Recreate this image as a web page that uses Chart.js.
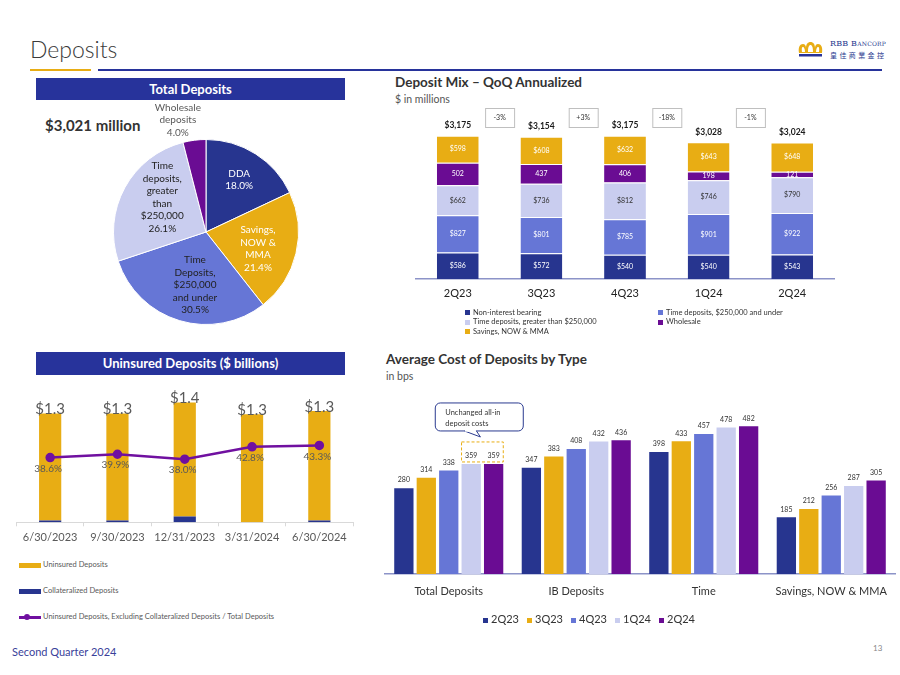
<!DOCTYPE html>
<html>
<head>
<meta charset="utf-8">
<script src="https://cdn.jsdelivr.net/npm/chart.js@4.4.1/dist/chart.umd.min.js"></script>
<style>
  body { margin: 0; width: 900px; height: 675px; background: #fff; position: relative; overflow: hidden; font-family: Lato, "Noto Sans", sans-serif; color: #333; }
  .abs { position: absolute; }
  .bar-head { position: absolute; background: #27339b; color: #fff; font-weight: bold; font-size: 13px; text-align: center; }
  .lg { position: absolute; white-space: nowrap; }
  .sq { display: inline-block; width: 5px; height: 5px; margin-right: 3px; vertical-align: middle; }
  canvas { position: absolute; }
</style>
</head>
<body>

<div class="abs" style="left:30px;top:35px;font-size:23px;font-weight:300;color:#3a3a3a;">Deposits</div>
<div class="abs" style="left:30px;top:69px;width:61px;height:2px;background:#e8ad14;"></div>
<div class="abs" style="left:98px;top:69px;width:784px;height:2px;background:#27339b;"></div>

<svg class="abs" style="left:797px;top:41px;" width="27" height="17" viewBox="0 0 27 17">
  <path d="M2 12 C1 6 3 3 6 3 C8 3 9 5 9 7 C9 3 11 1 13.5 1 C16 1 18 3 18 7 C18 5 19 3 21 3 C24 3 26 6 25 12 Z" fill="#e8ad14"/>
  <path d="M5 11 C4.5 7 5 6 6 6 C7 6 8 8 8 11 Z M11 11 C11 6 12 4 13.5 4 C15 4 16 6 16 11 Z M19 11 C19 8 20 6 21 6 C22 6 22.5 7 22 11 Z" fill="#fff"/>
  <rect x="2" y="13" width="23" height="2.5" fill="#27339b"/>
</svg>
<div class="abs" style="left:830px;top:39px;font-family:'DejaVu Serif',serif;font-size:8px;color:#2a3a8f;font-variant:small-caps;letter-spacing:0.2px;">RBB Bancorp</div>
<div class="abs" style="left:830px;top:50px;font-family:'Noto Sans CJK TC',sans-serif;font-size:7px;color:#2a3a8f;letter-spacing:2.4px;">皇佳商業金控</div>

<div class="bar-head" style="left:36px;top:78px;width:309px;height:22px;line-height:22px;">Total Deposits</div>
<div class="abs" style="left:45px;top:116px;font-size:15px;font-weight:bold;color:#333;">$3,021 million</div>

<div class="bar-head" style="left:36px;top:352px;width:309px;height:23px;line-height:23px;">Uninsured Deposits ($ billions)</div>

<div class="abs" style="left:395px;top:74px;font-size:13.5px;font-weight:bold;color:#333;">Deposit Mix – QoQ Annualized</div>
<div class="abs" style="left:395px;top:93px;font-size:10.5px;color:#555;">$ in millions</div>

<div class="abs" style="left:386px;top:351px;font-size:13.5px;font-weight:bold;color:#333;">Average Cost of Deposits by Type</div>
<div class="abs" style="left:386px;top:370px;font-size:10.5px;color:#555;">in bps</div>

<canvas id="pieChart" width="200" height="232" style="left:106px;top:100px;"></canvas>
<canvas id="mixChart" width="460" height="230" style="left:380px;top:90px;"></canvas>
<canvas id="unChart" width="350" height="185" style="left:10px;top:365px;"></canvas>
<canvas id="costChart" width="520" height="250" style="left:380px;top:385px;"></canvas>

<div id="mixLegend"></div>
<div id="unLegend"></div>
<div id="costLegend"></div>

<div class="abs" style="left:12px;top:645px;font-size:11px;color:#3a3f9a;">Second Quarter 2024</div>
<div class="abs" style="left:873px;top:643px;font-size:8px;color:#888;">13</div>

<script>
// ---- data ----
const pieLabels = [['DDA'], ['Savings,', 'NOW &', 'MMA'], ['Time', 'Deposits,', '$250,000', 'and under'], ['Time', 'deposits,', 'greater', 'than', '$250,000'], ['Wholesale', 'deposits']];
const pieValues = [18.0, 21.4, 30.5, 26.1, 4.0];

const mixQuarters = ['2Q23', '3Q23', '4Q23', '1Q24', '2Q24'];
const mixNonInterest = [586, 572, 540, 540, 543];
const mixTdUnder = [827, 801, 785, 901, 922];
const mixTdOver = [662, 736, 812, 746, 790];
const mixWholesale = [502, 437, 406, 198, 121];
const mixSavings = [598, 608, 632, 643, 648];
const mixChange = ['-3%', '+3%', '-18%', '-1%'];

const unDates = ['6/30/2023', '9/30/2023', '12/31/2023', '3/31/2024', '6/30/2024'];
const unUninsured = [1.28, 1.28, 1.36, 1.29, 1.31];
const unCollateral = [0.02, 0.02, 0.07, 0.00, 0.02];
const unRatio = [38.6, 39.9, 38.0, 42.8, 43.3];

const costTypes = ['Total Deposits', 'IB Deposits', 'Time', 'Savings, NOW & MMA'];
const costQuarters = ['2Q23', '3Q23', '4Q23', '1Q24', '2Q24'];
const cost2Q23 = [280, 347, 398, 185];
const cost3Q23 = [314, 383, 433, 212];
const cost4Q23 = [338, 408, 457, 256];
const cost1Q24 = [359, 432, 478, 287];
const cost2Q24 = [359, 436, 482, 305];

const NAVY = '#27358f', GOLD = '#e8ad14', MBLUE = '#6676d6', LAV = '#c9cdef', PURPLE = '#6a0c93';

Chart.defaults.font.family = 'Lato';
Chart.defaults.animation = false;
Chart.defaults.plugins.legend.display = false;
Chart.defaults.plugins.tooltip.enabled = false;

function fixHeight(h) {
    return function(scale) { scale.height = h; };
}

// ---- pie ----
const piePlace = [
    {r: 0.67, dx: 0, dy: 0, color: '#ffffff'},
    {r: 0.6, dx: -2, dy: 4, color: '#ffffff'},
    {r: 0.6, dx: 5, dy: 0, color: '#222222'},
    {r: 0.6, dx: 5, dy: -8, color: '#222222'},
    {r: 1.22, dx: -14, dy: 0, color: '#595959'}
];

const pieLabelPlugin = {
    id: 'pieLabels',
    afterDatasetsDraw(chart) {
        const ctx = chart.ctx;
        ctx.save();
        ctx.font = '10px Lato';
        ctx.textAlign = 'center';
        ctx.textBaseline = 'middle';
        chart.getDatasetMeta(0).data.forEach((arc, i) => {
            const p = piePlace[i];
            const mid = (arc.startAngle + arc.endAngle) / 2;
            const r = arc.outerRadius * p.r;
            const x = arc.x + Math.cos(mid) * r + p.dx;
            const y = arc.y + Math.sin(mid) * r + p.dy;
            const lines = pieLabels[i].concat(pieValues[i].toFixed(1) + '%');
            ctx.fillStyle = p.color;
            lines.forEach((t, j) => ctx.fillText(t, x, y + (j - (lines.length - 1) / 2) * 12.5));
        });
        ctx.restore();
    }
};

new Chart(document.getElementById('pieChart'), {
    type: 'pie',
    data: {
        labels: pieLabels.map(l => l.join(' ')),
        datasets: [{
            data: pieValues,
            backgroundColor: [NAVY, GOLD, MBLUE, LAV, PURPLE],
            borderColor: '#ffffff',
            borderWidth: 1
        }]
    },
    options: {
        responsive: false,
        layout: { padding: { top: 39, bottom: 7, left: 7, right: 7 } }
    },
    plugins: [pieLabelPlugin]
});

// ---- deposit mix ----
const mixLabelPlugin = {
    id: 'mixLabels',
    afterDatasetsDraw(chart) {
        const ctx = chart.ctx;
        const xs = chart.scales.x;
        const sets = chart.data.datasets;
        ctx.save();
        ctx.textAlign = 'center';
        ctx.textBaseline = 'middle';
        ctx.font = '7px Lato';
        sets.forEach((ds, di) => {
            chart.getDatasetMeta(di).data.forEach((bar, i) => {
                ctx.fillStyle = ds.textColor;
                ctx.fillText(ds.prefix + ds.data[i], bar.x, (bar.y + bar.base) / 2);
            });
        });
        const tops = chart.getDatasetMeta(sets.length - 1).data;
        ctx.font = 'bold 8.5px Lato';
        ctx.fillStyle = '#1a1a1a';
        mixQuarters.forEach((q, i) => {
            const total = sets.reduce((s, ds) => s + ds.data[i], 0);
            ctx.fillText('$' + total.toLocaleString('en-US'), tops[i].x, tops[i].y - 10);
        });
        ctx.font = '7px Lato';
        mixChange.forEach((t, i) => {
            const cx = (xs.getPixelForValue(i) + xs.getPixelForValue(i + 1)) / 2;
            const y0 = chart.chartArea.top + 9.5;
            ctx.fillStyle = '#ffffff';
            ctx.fillRect(cx - 14.5, y0, 29, 19);
            ctx.strokeStyle = '#bfbfbf';
            ctx.lineWidth = 1;
            ctx.strokeRect(cx - 14.5 + 0.5, y0 + 0.5, 29, 19);
            ctx.fillStyle = '#333';
            ctx.fillText(t, cx, y0 + 9.5);
        });
        ctx.restore();
    }
};

function mixSet(label, data, color, textColor, prefix) {
    return {
        label: label, data: data, backgroundColor: color,
        textColor: textColor, prefix: prefix,
        borderColor: '#ffffff', borderWidth: { top: 1, bottom: 0, left: 0, right: 0 }, borderSkipped: 'start',
        categoryPercentage: 1, barPercentage: 0.5
    };
}

new Chart(document.getElementById('mixChart'), {
    type: 'bar',
    data: {
        labels: mixQuarters,
        datasets: [
            mixSet('Non-interest bearing', mixNonInterest, NAVY, '#ffffff', '$'),
            mixSet('Time deposits, $250,000 and under', mixTdUnder, MBLUE, '#ffffff', '$'),
            mixSet('Time deposits, greater than $250,000', mixTdOver, LAV, '#333333', '$'),
            mixSet('Wholesale', mixWholesale, PURPLE, '#ffffff', ''),
            mixSet('Savings, NOW & MMA', mixSavings, GOLD, '#ffffff', '$')
        ]
    },
    options: {
        responsive: false,
        layout: { padding: { top: 8.5, left: 36, right: 6, bottom: 11 } },
        scales: {
            x: {
                stacked: true,
                grid: { display: false, drawTicks: false },
                border: { display: true, color: '#8c93c8', width: 1.5 },
                ticks: { font: { size: 11 }, color: '#222', padding: 8, maxRotation: 0 },
                afterFit: fixHeight(30)
            },
            y: { stacked: true, display: false, min: 0, max: 4000 }
        }
    },
    plugins: [mixLabelPlugin]
});

// ---- uninsured ----
const unLabelPlugin = {
    id: 'unLabels',
    afterDatasetsDraw(chart) {
        const ctx = chart.ctx;
        ctx.save();
        ctx.textAlign = 'center';
        ctx.textBaseline = 'middle';
        ctx.fillStyle = '#595959';
        ctx.font = '15px Lato';
        chart.getDatasetMeta(1).data.forEach((bar, i) => {
            ctx.fillText('$' + (unUninsured[i] + unCollateral[i]).toFixed(1), bar.x, bar.y - 4);
        });
        ctx.font = '10px Lato';
        chart.getDatasetMeta(2).data.forEach((pt, i) => {
            ctx.fillText(unRatio[i].toFixed(1) + '%', pt.x - 2, pt.y + 11);
        });
        ctx.restore();
    }
};

new Chart(document.getElementById('unChart'), {
    type: 'bar',
    data: {
        labels: unDates,
        datasets: [
            { label: 'Collateralized Deposits', data: unCollateral, backgroundColor: NAVY, stack: 's', order: 1, categoryPercentage: 1, barPercentage: 0.33 },
            { label: 'Uninsured Deposits', data: unUninsured, backgroundColor: GOLD, stack: 's', order: 1, categoryPercentage: 1, barPercentage: 0.33 },
            { type: 'line', label: 'Uninsured Deposits, Excluding Collateralized Deposits / Total Deposits', data: unRatio, yAxisID: 'y2', order: 0,
              borderColor: '#7010a0', backgroundColor: '#7010a0', borderWidth: 2.5, pointRadius: 3.5, tension: 0 }
        ]
    },
    options: {
        responsive: false,
        layout: { padding: { top: 6.4, left: 5, right: 7, bottom: 1.7 } },
        scales: {
            x: {
                stacked: true,
                grid: { display: true, drawOnChartArea: false, drawTicks: true, tickLength: 4, offset: true, color: '#d9d9d9' },
                border: { display: true, color: '#d9d9d9', width: 1 },
                ticks: { font: { size: 11 }, color: '#595959', padding: 5, maxRotation: 0 },
                afterFit: fixHeight(26)
            },
            y: { stacked: true, display: false, min: 0, max: 1.8 },
            y2: { display: false, min: 13.5, max: 72 }
        }
    },
    plugins: [unLabelPlugin]
});

// ---- average cost ----
const costLabelPlugin = {
    id: 'costLabels',
    afterDatasetsDraw(chart) {
        const ctx = chart.ctx;
        ctx.save();
        ctx.textAlign = 'center';
        ctx.textBaseline = 'middle';
        ctx.font = '7px Lato';
        ctx.fillStyle = '#333';
        chart.data.datasets.forEach((ds, di) => {
            chart.getDatasetMeta(di).data.forEach((bar, i) => {
                ctx.fillText(ds.data[i], bar.x, bar.y - 8);
            });
        });
        // dashed box round the two flat quarters of total deposits
        const b3 = chart.getDatasetMeta(3).data[0];
        const b4 = chart.getDatasetMeta(4).data[0];
        const left = b3.x - b3.width / 2, right = b4.x + b4.width / 2;
        const bottom = Math.min(b3.y, b4.y) - 2, top = bottom - 20;
        ctx.strokeStyle = GOLD;
        ctx.lineWidth = 1;
        ctx.setLineDash([3, 2]);
        ctx.strokeRect(left, top, right - left, bottom - top);
        ctx.setLineDash([]);
        // callout
        const cr = right + 20, cl = cr - 88, cb = top - 11, ct = cb - 28;
        const tipX = (b3.x + b4.x) / 2 - 2, tipY = top - 5;
        ctx.beginPath();
        ctx.roundRect(cl, ct, cr - cl, cb - ct, 5);
        ctx.fillStyle = '#fff';
        ctx.fill();
        ctx.strokeStyle = '#2a3a8f';
        ctx.stroke();
        ctx.beginPath();
        ctx.moveTo(tipX - 16, cb);
        ctx.lineTo(tipX, tipY);
        ctx.lineTo(tipX - 4, cb);
        ctx.fillStyle = '#fff';
        ctx.fill();
        ctx.stroke();
        ctx.fillRect(tipX - 15.5, cb - 1.5, 11, 2.2);
        ctx.fillStyle = '#333';
        ctx.textAlign = 'left';
        ctx.font = '7.5px Lato';
        ctx.fillText('Unchanged all-in', cl + 10, ct + 10);
        ctx.fillText('deposit costs', cl + 10, ct + 21);
        ctx.restore();
    }
};

const costColors = [NAVY, GOLD, MBLUE, LAV, PURPLE];
const costData = [cost2Q23, cost3Q23, cost4Q23, cost1Q24, cost2Q24];

new Chart(document.getElementById('costChart'), {
    type: 'bar',
    data: {
        labels: costTypes,
        datasets: costQuarters.map((q, i) => ({
            label: q, data: costData[i], backgroundColor: costColors[i],
            categoryPercentage: 0.88, barPercentage: 0.86
        }))
    },
    options: {
        responsive: false,
        layout: { padding: { top: 5.1, left: 5, right: 5, bottom: 31 } },
        scales: {
            x: {
                grid: { display: false, drawTicks: false },
                border: { display: true, color: '#8c93c8', width: 1.5 },
                ticks: { font: { size: 11 }, color: '#333', padding: 11, maxRotation: 0 },
                afterFit: fixHeight(30)
            },
            y: { display: false, min: 0, max: 600 }
        }
    },
    plugins: [costLabelPlugin]
});

// ---- html legends ----
function legendItem(parent, x, y, swatch, text, size) {
    const d = document.createElement('div');
    d.className = 'lg';
    d.style.left = x + 'px';
    d.style.top = (y - size * 0.65) + 'px';
    d.style.fontSize = size + 'px';
    d.style.lineHeight = (size * 1.3) + 'px';
    d.innerHTML = swatch + text;
    document.getElementById(parent).appendChild(d);
}
function sq(color) { return '<span class="sq" style="background:' + color + '"></span>'; }

legendItem('mixLegend', 465, 312.5, sq(NAVY), 'Non-interest bearing', 7.5);
legendItem('mixLegend', 658, 312.5, sq(MBLUE), 'Time deposits, $250,000 and under', 7.5);
legendItem('mixLegend', 465, 322, sq(LAV), 'Time deposits, greater than $250,000', 7.5);
legendItem('mixLegend', 658, 322, sq(PURPLE), 'Wholesale', 7.5);
legendItem('mixLegend', 465, 331.5, sq(GOLD), 'Savings, NOW &amp; MMA', 7.5);

const bar = c => '<span style="display:inline-block;width:22px;height:5px;background:' + c + ';margin-right:2px;vertical-align:middle"></span>';
const lineSw = '<span style="display:inline-block;position:relative;width:22px;height:6px;margin-right:2px;vertical-align:middle"><span style="position:absolute;left:0;top:2px;width:22px;height:2.5px;background:#7010a0"></span><span style="position:absolute;left:5px;top:0;width:6px;height:6px;border-radius:3px;background:#7010a0"></span></span>';
legendItem('unLegend', 19, 565, bar(GOLD), '<span style="color:#595959">Uninsured Deposits</span>', 7.5);
legendItem('unLegend', 19, 591, bar(NAVY), '<span style="color:#595959">Collateralized Deposits</span>', 7.5);
legendItem('unLegend', 19, 617, lineSw, '<span style="color:#595959">Uninsured Deposits, Excluding Collateralized Deposits / Total Deposits</span>', 7.5);

const costLegX = [483, 527, 571, 615, 659];
costQuarters.forEach((q, i) => legendItem('costLegend', costLegX[i], 619, sq(costColors[i]), q, 11));
</script>
</body>
</html>
